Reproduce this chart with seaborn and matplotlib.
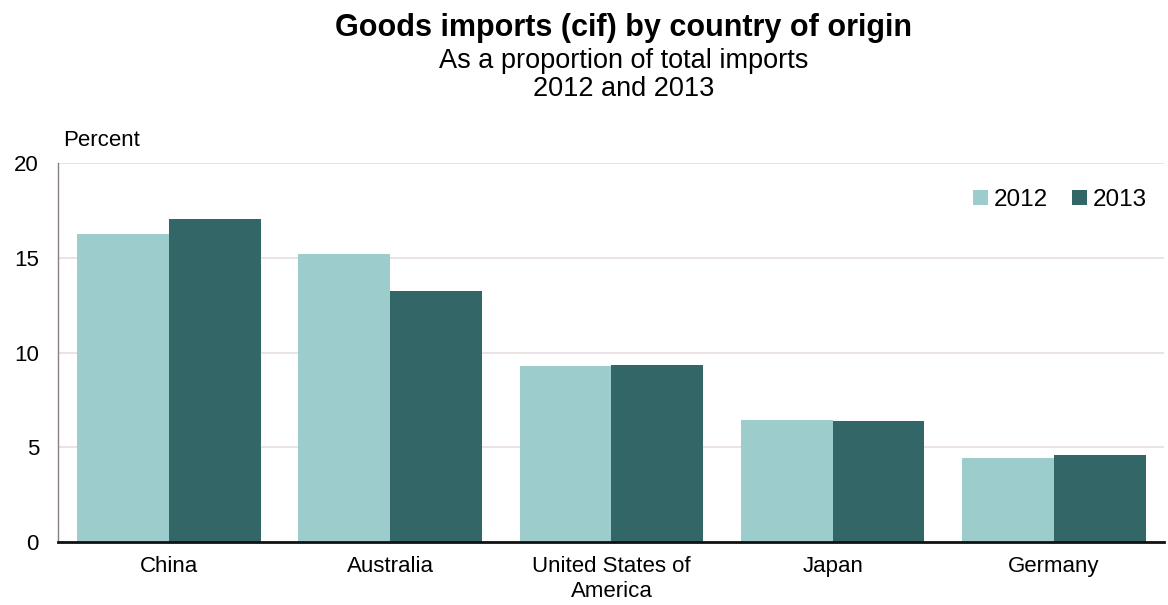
import pandas as pd
import matplotlib
matplotlib.use("Agg")
import matplotlib.pyplot as plt
import seaborn as sns

# -----------------------------
# Data
# -----------------------------
countries = ["China", "Australia", "United States of\nAmerica", "Japan", "Germany"]
years = ["2012", "2013"]
share_2012 = [16.26, 15.19, 9.29, 6.43, 4.42]
share_2013 = [17.04, 13.27, 9.36, 6.36, 4.60]

df = pd.DataFrame({
    "Country": countries * 2,
    "Year": [years[0]] * 5 + [years[1]] * 5,
    "Percent": share_2012 + share_2013,
})

sns.set_style("white")
plt.rcParams["font.family"] = ["Liberation Sans", "DejaVu Sans"]
plt.rcParams["text.color"] = "#000000"

fig = plt.figure(figsize=(11.68, 6.05), dpi=100)
ax = fig.add_axes([0.05, 0.1046, 0.947, 0.6254])

sns.barplot(data=df, x="Country", y="Percent", hue="Year",
            palette=["#9ccccc", "#336666"], width=0.83, saturation=1,
            linewidth=0, ax=ax, zorder=2)

ax.set_ylim(0, 20)
ax.set_xlim(-0.5, 4.5)
ax.set_yticks([0, 5, 10, 15, 20])
ax.yaxis.grid(True, color="#e8dede", linewidth=1.2, zorder=0)
ax.set_axisbelow(True)
ax.set_xlabel("")
ax.set_ylabel("")
ax.tick_params(axis="both", length=0, labelsize=16, colors="#000000")
ax.tick_params(axis="x", pad=10)
ax.tick_params(axis="y", pad=14)
for lbl in ax.get_xticklabels():
    lbl.set_linespacing(1.3)

for s in ["top", "right"]:
    ax.spines[s].set_visible(False)
ax.spines["left"].set_color("#8a7f7f")
ax.spines["left"].set_linewidth(1)
ax.spines["bottom"].set_color("#111111")
ax.spines["bottom"].set_linewidth(2)

leg = ax.legend(loc="upper right", bbox_to_anchor=(1.004, 0.99), ncol=2, frameon=False,
                fontsize=17.5, handlelength=0.6, handleheight=0.6,
                handletextpad=0.25, columnspacing=1.0)

fig.text(0.054, 0.751, "Percent", fontsize=16, ha="left", va="bottom")
fig.text(0.534, 0.953, "Goods imports (cif) by country of origin",
         fontsize=22, fontweight="bold", ha="center", va="center")
fig.text(0.534, 0.899, "As a proportion of total imports", fontsize=19.5, ha="center", va="center")
fig.text(0.534, 0.853, "2012 and 2013", fontsize=19.5, ha="center", va="center")

fig.savefig("out.png", dpi=100)
